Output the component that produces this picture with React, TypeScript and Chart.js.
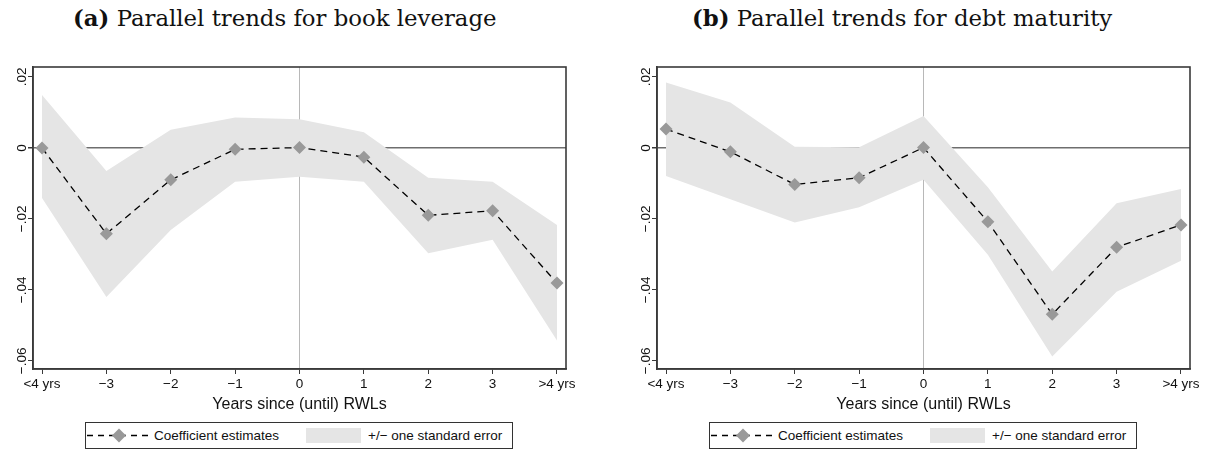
import React, { useEffect, useRef } from 'react';
import { Chart, registerables } from 'chart.js';

Chart.register(...registerables);

// ---- data ----
const xLabels = ['<4 yrs', '\u22123', '\u22122', '\u22121', '0', '1', '2', '3', '>4 yrs'];
const yTickValues = [-0.06, -0.04, -0.02, 0, 0.02];
const yTickLabels = ['\u2212.06', '\u2212.04', '\u2212.02', '0', '.02'];

const levCoef = [0.0, -0.0242, -0.009, -0.0004, 0.0001, -0.0026, -0.019, -0.0177, -0.0381];
const levUpper = [0.0149, -0.0065, 0.0051, 0.0086, 0.0081, 0.0044, -0.0084, -0.0095, -0.0217];
const levLower = [-0.0141, -0.042, -0.0231, -0.0095, -0.0081, -0.0095, -0.0297, -0.0259, -0.0543];

const matCoef = [0.0053, -0.0011, -0.0103, -0.0084, 0.0001, -0.0208, -0.0469, -0.028, -0.0217];
const matUpper = [0.0184, 0.0128, 0.0003, 0.0002, 0.009, -0.0111, -0.0348, -0.0156, -0.0116];
const matLower = [-0.0079, -0.0145, -0.021, -0.0167, -0.009, -0.0301, -0.0588, -0.0405, -0.0318];

const xTitle = 'Years since (until) RWLs';
const legendCoef = 'Coefficient estimates';
const legendBand = '+/\u2212 one standard error';

const SANS = '"Liberation Sans", Arial, sans-serif';
const BAND = '#e5e5e5';
const MARK = '#999999';
const AXIS = '#3a3a3a';

const boxPlugin = {
  id: 'box',
  afterDatasetsDraw(chart: any) {
    const { ctx, chartArea: a } = chart;
    ctx.save();
    ctx.strokeStyle = AXIS;
    ctx.lineWidth = 1.6;
    ctx.strokeRect(a.left, a.top, a.right - a.left, a.bottom - a.top);
    ctx.restore();
  },
};

const yLabelPlugin = {
  id: 'ylabels',
  afterDraw(chart: any) {
    const s = chart.scales.y;
    const ctx = chart.ctx;
    ctx.save();
    ctx.font = '13.5px ' + SANS;
    ctx.fillStyle = '#111';
    ctx.textAlign = 'center';
    ctx.textBaseline = 'middle';
    yTickValues.forEach((v, i) => {
      const y = s.getPixelForValue(v);
      ctx.save();
      ctx.translate(chart.chartArea.left - 11, y);
      ctx.rotate(-Math.PI / 2);
      ctx.fillText(yTickLabels[i], 0, 0);
      ctx.restore();
    });
    ctx.restore();
  },
};

function PlotCanvas({ width, coef, upper, lower }: any) {
  const ref = useRef<HTMLCanvasElement>(null);
  useEffect(() => {
    const pts = (arr: number[]) => arr.map((y, i) => ({ x: i, y }));
    const chart = new Chart(ref.current as HTMLCanvasElement, {
      type: 'line',
      data: {
        datasets: [
          {
            data: pts(upper),
            fill: '+1',
            backgroundColor: BAND,
            borderColor: 'rgba(0,0,0,0)',
            borderWidth: 0,
            pointRadius: 0,
            order: 1,
          },
          {
            data: pts(lower),
            fill: false,
            borderColor: 'rgba(0,0,0,0)',
            borderWidth: 0,
            pointRadius: 0,
            order: 2,
          },
          {
            data: pts(coef),
            fill: false,
            borderColor: '#000',
            borderWidth: 1.3,
            borderDash: [7, 5],
            pointStyle: 'rectRot',
            pointRadius: 6.5,
            pointBackgroundColor: MARK,
            pointBorderColor: 'rgba(0,0,0,0)',
            pointBorderWidth: 0,
            order: 0,
          },
        ],
      } as any,
      options: {
        responsive: false,
        animation: false,
        events: [],
        layout: { padding: { top: 7, right: width - 566, left: 0, bottom: 0 } },
        plugins: { legend: { display: false }, tooltip: { enabled: false } },
        scales: {
          x: {
            type: 'linear',
            min: -0.14,
            max: 8.14,
            afterBuildTicks: (s: any) => {
              s.ticks = xLabels.map((_, i) => ({ value: i }));
            },
            afterFit: (s: any) => {
              s.height = 46;
            },
            ticks: {
              callback: (v: any) => xLabels[v],
              font: { size: 13.5, family: SANS },
              color: '#111',
              padding: 2,
              maxRotation: 0,
              minRotation: 0,
              autoSkip: false,
            },
            grid: {
              color: (c: any) => (c.tick && c.tick.value === 4 ? '#b8b8b8' : 'rgba(0,0,0,0)'),
              lineWidth: 1,
              tickColor: AXIS,
              tickLength: 5,
            },
            border: { color: AXIS, width: 1.6 },
            title: {
              display: true,
              text: xTitle,
              font: { size: 16, family: SANS },
              color: '#111',
              padding: { top: 0, bottom: 1 },
            },
          },
          y: {
            min: -0.0623,
            max: 0.0228,
            afterBuildTicks: (s: any) => {
              s.ticks = yTickValues.map((v) => ({ value: v }));
            },
            afterFit: (s: any) => {
              s.width = 33;
            },
            ticks: { display: false },
            grid: {
              color: (c: any) => (c.tick && c.tick.value === 0 ? '#6e6e6e' : 'rgba(0,0,0,0)'),
              lineWidth: (c: any) => (c.tick && c.tick.value === 0 ? 1.5 : 1),
              tickColor: AXIS,
              tickLength: 5,
            },
            border: { color: AXIS, width: 1.6 },
          },
        },
      } as any,
      plugins: [boxPlugin, yLabelPlugin],
    });
    return () => chart.destroy();
  }, []);
  return <canvas ref={ref} width={width} height={355} style={{ display: 'block', width, height: 355 }} />;
}

function Legend({ left }: { left: number }) {
  const text: React.CSSProperties = {
    position: 'absolute',
    top: 0,
    lineHeight: '25px',
    fontFamily: SANS,
    fontSize: 13.5,
    color: '#111',
    whiteSpace: 'nowrap',
  };
  return (
    <div
      style={{
        position: 'absolute',
        left,
        top: 422,
        width: 428,
        height: 27,
        border: '1px solid #333',
        boxSizing: 'border-box',
        background: '#fff',
      }}
    >
      <svg width={66} height={25} style={{ position: 'absolute', left: 1, top: 0 }}>
        <line x1={0} y1={12.5} x2={66} y2={12.5} stroke="#000" strokeWidth={1.3} strokeDasharray="6 5" />
        <polygon points="32,5.5 39,12.5 32,19.5 25,12.5" fill={MARK} />
      </svg>
      <span style={{ ...text, left: 68 }}>{legendCoef}</span>
      <div style={{ position: 'absolute', left: 220, top: 5, width: 55, height: 15, background: BAND }} />
      <span style={{ ...text, left: 282 }}>{legendBand}</span>
    </div>
  );
}

function Title({ left, letter, text }: { left: number; letter: string; text: string }) {
  return (
    <div
      style={{
        position: 'absolute',
        left,
        top: 5,
        fontFamily: '"DejaVu Serif", serif',
        fontSize: 22.8,
        lineHeight: '27px',
        color: '#111',
        whiteSpace: 'nowrap',
      }}
    >
      <b>({letter})</b> {text}
    </div>
  );
}

export default function App() {
  return (
    <div
      style={{
        position: 'absolute',
        left: 0,
        top: 0,
        width: 1209,
        height: 451,
        overflow: 'hidden',
        background: '#fff',
      }}
    >
      <Title left={73} letter="a" text="Parallel trends for book leverage" />
      <Title left={692} letter="b" text="Parallel trends for debt maturity" />
      <div style={{ position: 'absolute', left: 0, top: 60 }}>
        <PlotCanvas width={600} coef={levCoef} upper={levUpper} lower={levLower} />
      </div>
      <div style={{ position: 'absolute', left: 624, top: 60 }}>
        <PlotCanvas width={585} coef={matCoef} upper={matUpper} lower={matLower} />
      </div>
      <Legend left={85} />
      <Legend left={709} />
    </div>
  );
}
